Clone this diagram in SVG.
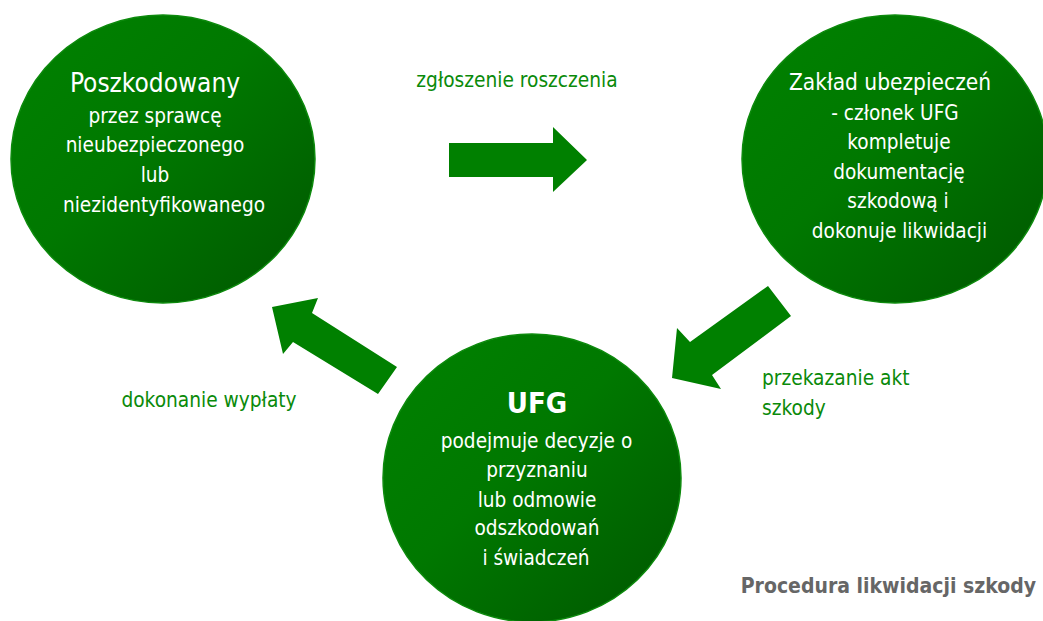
<svg xmlns="http://www.w3.org/2000/svg" width="1043" height="621" viewBox="0 0 1043 621">
<defs>
<linearGradient id="g" x1="0" y1="0" x2="1" y2="1">
<stop offset="0" stop-color="#008200"/>
<stop offset="0.45" stop-color="#007800"/>
<stop offset="1" stop-color="#005600"/>
</linearGradient>
<style>
.c{fill:url(#g);stroke:#0d8a0d;stroke-width:1.5}
.t{font-family:"DejaVu Sans Condensed","DejaVu Sans",sans-serif;fill:#ffffff;text-anchor:middle;font-size:20.6px}
.h{font-size:26px}
.z{font-size:22.5px}
.b{font-size:29px;font-weight:bold}
.l{font-family:"DejaVu Sans Condensed","DejaVu Sans",sans-serif;fill:#0a8a0a;font-size:20.7px}
.a{fill:#008000}
.cap{font-family:"DejaVu Sans Condensed","DejaVu Sans",sans-serif;fill:#666666;font-size:21px;font-weight:bold}
</style>
</defs>
<rect width="1043" height="621" fill="#ffffff"/>
<g id="connectors">
<polygon class="a" points="449,143 553,143 553,127 587,160 553,192 553,177 449,177"/>
<polygon class="a" points="768,286 791,316 712,375 721,389 672,378 677,328 690,342"/>
<polygon class="a" points="272,307 318,298 312,313 397,367 378,394 293,342 283,354"/>
<text class="l" x="517" y="87" text-anchor="middle">zgłoszenie roszczenia</text>
<text class="l" x="762" y="385">przekazanie akt</text>
<text class="l" x="762" y="415">szkody</text>
<text class="l" x="209" y="407" text-anchor="middle">dokonanie wypłaty</text>
</g>
<g id="poszkodowany">
<ellipse class="c" cx="163" cy="159" rx="152" ry="144"/>
<text class="t h" x="155" y="92">Poszkodowany</text>
<text class="t" x="155" y="123">przez sprawcę</text>
<text class="t" x="155" y="152">nieubezpieczonego</text>
<text class="t" x="155" y="182">lub</text>
<text class="t" x="164" y="212">niezidentyfikowanego</text>
</g>
<g id="zaklad">
<ellipse class="c" cx="895" cy="159" rx="153" ry="144"/>
<text class="t z" x="890" y="90">Zakład ubezpieczeń</text>
<text class="t" x="895" y="119.5">- członek UFG</text>
<text class="t" x="899" y="149">kompletuje</text>
<text class="t" x="899" y="178.5">dokumentację</text>
<text class="t" x="898" y="208">szkodową i</text>
<text class="t" x="899.5" y="237.5">dokonuje likwidacji</text>
</g>
<g id="ufg">
<ellipse class="c" cx="532" cy="478" rx="149" ry="144"/>
<text class="t b" x="537" y="413">UFG</text>
<text class="t" x="536.5" y="448">podejmuje decyzje o</text>
<text class="t" x="537" y="477">przyznaniu</text>
<text class="t" x="537" y="507">lub odmowie</text>
<text class="t" x="537" y="535">odszkodowań</text>
<text class="t" x="536" y="565">i świadczeń</text>
</g>
<g id="caption">
<text class="cap" x="1036" y="593" text-anchor="end">Procedura likwidacji szkody</text>
</g>
</svg>
